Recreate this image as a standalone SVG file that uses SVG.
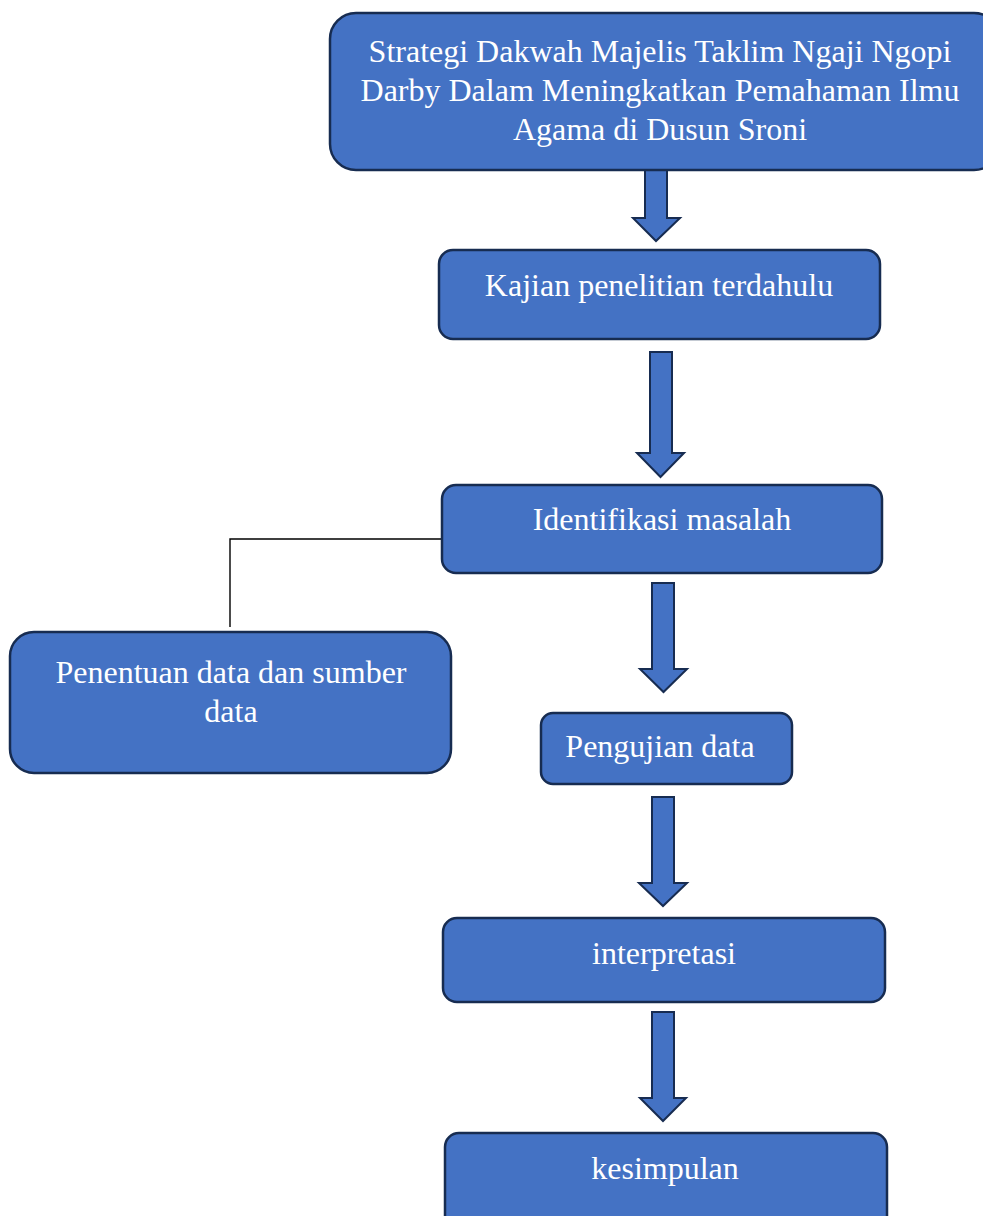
<svg xmlns="http://www.w3.org/2000/svg" width="983" height="1216" viewBox="0 0 983 1216">
<style>
.box{fill:#4472C4;stroke:#172C51;stroke-width:2.5}
.arrow{fill:#4472C4;stroke:#172C51;stroke-width:2;stroke-linejoin:miter}
.t{font-family:"Liberation Serif","Times New Roman",serif;font-size:32px;fill:#ffffff;text-anchor:middle}
.line{fill:none;stroke:#000000;stroke-width:1.4}
</style>
<rect width="983" height="1216" fill="#ffffff"/>
<g id="connectors">
<path class="line" d="M442 539 H230 V627"/>
<polygon class="arrow" points="645,170 667,170 667,218 680,218 656,241 633,218 645,218"/>
<polygon class="arrow" points="650,352 672,352 672,453 684,453 660.5,477 637,453 650,453"/>
<polygon class="arrow" points="652,583 674,583 674,669 687,669 663.5,692 640,669 652,669"/>
<polygon class="arrow" points="652,797 674,797 674,883 687,883 663,906 639,883 652,883"/>
<polygon class="arrow" points="652,1012 674,1012 674,1098 686,1098 663,1121 640,1098 652,1098"/>
</g>
<g id="node-title">
<rect class="box" x="330" y="13" width="670" height="157" rx="26"/>
<text class="t" x="660" y="62">Strategi Dakwah Majelis Taklim Ngaji Ngopi</text>
<text class="t" x="660" y="101">Darby Dalam Meningkatkan Pemahaman Ilmu</text>
<text class="t" x="660" y="140">Agama di Dusun Sroni</text>
</g>
<g id="node-kajian">
<rect class="box" x="439" y="250" width="441" height="89" rx="14"/>
<text class="t" x="659" y="296">Kajian penelitian terdahulu</text>
</g>
<g id="node-identifikasi">
<rect class="box" x="442" y="485" width="440" height="88" rx="14"/>
<text class="t" x="662" y="530">Identifikasi masalah</text>
</g>
<g id="node-penentuan">
<rect class="box" x="10" y="632" width="441" height="141" rx="24"/>
<text class="t" x="231" y="683">Penentuan data dan sumber</text>
<text class="t" x="231" y="722">data</text>
</g>
<g id="node-pengujian">
<rect class="box" x="541" y="713" width="251" height="71" rx="12"/>
<text class="t" x="660" y="757">Pengujian data</text>
</g>
<g id="node-interpretasi">
<rect class="box" x="443" y="918" width="442" height="84" rx="14"/>
<text class="t" x="664" y="964">interpretasi</text>
</g>
<g id="node-kesimpulan">
<rect class="box" x="445" y="1133" width="442" height="110" rx="14"/>
<text class="t" x="665" y="1179">kesimpulan</text>
</g>
</svg>
